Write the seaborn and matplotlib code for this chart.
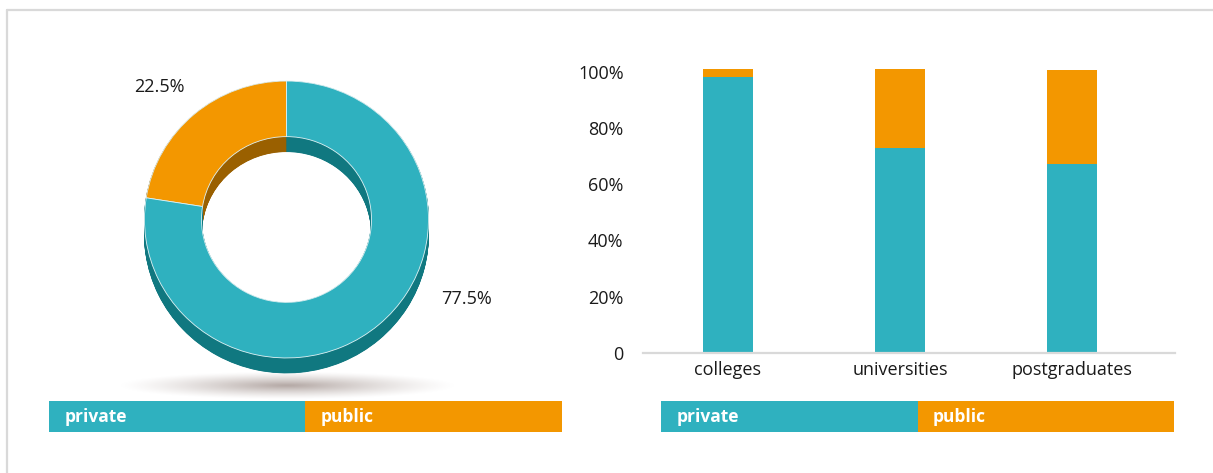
import numpy as np
import pandas as pd
import matplotlib
matplotlib.use("Agg")
import matplotlib.pyplot as plt
from matplotlib.patches import Rectangle
from matplotlib.lines import Line2D
import seaborn as sns

# ---------------- data ----------------
donut_labels = ["public", "private"]
donut_values = [22.5, 77.5]
donut_texts = ["22.5%", "77.5%"]

categories = ["colleges", "universities", "postgraduates"]
private_share = [98.0, 73.0, 67.3]
public_share = [3.0, 28.0, 33.4]

ytick_values = [0, 20, 40, 60, 80, 100]
ytick_labels = ["0", "20%", "40%", "60%", "80%", "100%"]

legend_labels = ["private", "public"]

# ---------------- style ----------------
TEAL = "#2fb1bf"
ORANGE = "#f39700"
DARK_TEAL = "#107880"
DARK_ORANGE = "#9a6000"
TEXT = "#1a1a1a"
GRID = "#d9d9d9"

sns.set_theme(style="white")
plt.rcParams["font.family"] = ["Open Sans", "DejaVu Sans"]

W, H = 1213, 473
fig = plt.figure(figsize=(W / 100, H / 100), dpi=100)
fig.patch.set_facecolor("white")

# ---------------- donut (pseudo 3D) ----------------
ky = 0.975  # vertical squash of the donut
ax0 = fig.add_axes([0, 0, 1, 1], zorder=0)


def Y(p):
    return (H - p) / ky


cx, cy = 286.5, Y(219.5)
R, ring = 142, 57
depth = 15 / ky

# soft shadow beneath
gx = np.linspace(0, W, 800)
gy = np.linspace(0, H / ky, 400)
GX, GY = np.meshgrid(gx, gy)
r = np.sqrt(((GX - 287) / 170) ** 2 + ((GY - Y(386)) / (14 / ky)) ** 2)
Z = np.clip(1 - r, 0, 1) ** 1.3
rgba = np.zeros(Z.shape + (4,))
rgba[..., 0] = 0.60
rgba[..., 1] = 0.54
rgba[..., 2] = 0.52
rgba[..., 3] = 0.75 * Z
ax0.imshow(rgba, extent=(0, W, 0, H / ky), origin="lower", aspect="auto",
           zorder=0, interpolation="bilinear")

side = []
for s in np.linspace(depth, 0.5, 32):
    ws, _ = ax0.pie(donut_values, colors=[DARK_ORANGE, DARK_TEAL], startangle=90,
                    counterclock=True, radius=R, center=(cx, cy - s),
                    wedgeprops=dict(width=ring, linewidth=0.6))
    for w in ws:
        w.set_edgecolor(w.get_facecolor())
wedges, _ = ax0.pie(donut_values, colors=[ORANGE, TEAL], startangle=90,
                    counterclock=True, radius=R, center=(cx, cy),
                    wedgeprops=dict(width=ring, linewidth=0.6,
                                    edgecolor="#dff2f4"))
ax0.set_aspect("auto")
ax0.set_xlim(0, W)
ax0.set_ylim(0, H / ky)
ax0.axis("off")

ax0.text(159, Y(87), donut_texts[0], fontsize=13, color=TEXT,
         ha="center", va="center")
ax0.text(466, Y(299), donut_texts[1], fontsize=13, color=TEXT,
         ha="center", va="center")

# ---------------- stacked bars ----------------
axb = fig.add_axes([643 / W, (H - 352.7) / H, 532 / W, 295.05 / H], zorder=1)
axb.patch.set_alpha(0)
df = pd.DataFrame({
    "category": categories,
    "private": private_share,
    "total": np.array(private_share) + np.array(public_share),
})
sns.barplot(data=df, x="category", y="total", color=ORANGE, width=0.29,
            saturation=1, linewidth=0, ax=axb)
sns.barplot(data=df, x="category", y="private", color=TEAL, width=0.29,
            saturation=1, linewidth=0, ax=axb)
axb.set_xlim(-0.494, 2.599)
axb.set_ylim(0, 105)
axb.set_yticks(ytick_values)
axb.set_yticklabels(ytick_labels)
axb.set_xlabel("")
axb.set_ylabel("")
for sp in ["top", "right", "left"]:
    axb.spines[sp].set_visible(False)
axb.spines["bottom"].set_color(GRID)
axb.spines["bottom"].set_linewidth(1.6)
axb.tick_params(axis="both", length=0, labelsize=13, colors=TEXT)
axb.tick_params(axis="y", pad=14)
axb.tick_params(axis="x", pad=6)
axb.grid(False)

# ---------------- overlay: frame + legend strips ----------------
ov = fig.add_axes([0, 0, 1, 1], zorder=2)
ov.set_xlim(0, W)
ov.set_ylim(H, 0)
ov.axis("off")
ov.patch.set_alpha(0)

ov.add_line(Line2D([7, 1212.5], [10.5, 10.5], color=GRID, lw=1.6))
ov.add_line(Line2D([7, 7], [10.5, H], color=GRID, lw=1.6))

for x0 in (48.7, 661):
    ov.add_patch(Rectangle((x0, 401), 256.5, 30.7, color=TEAL, lw=0))
    ov.add_patch(Rectangle((x0 + 256.5, 401), 256.5, 30.7, color=ORANGE, lw=0))
    ov.text(x0 + 15.5, 416.5, legend_labels[0], color="white", fontsize=12.5,
            fontweight="bold", ha="left", va="center")
    ov.text(x0 + 256.5 + 15.5, 416.5, legend_labels[1], color="white",
            fontsize=12.5, fontweight="bold", ha="left", va="center")

fig.savefig("out.png", dpi=100, facecolor="white")
